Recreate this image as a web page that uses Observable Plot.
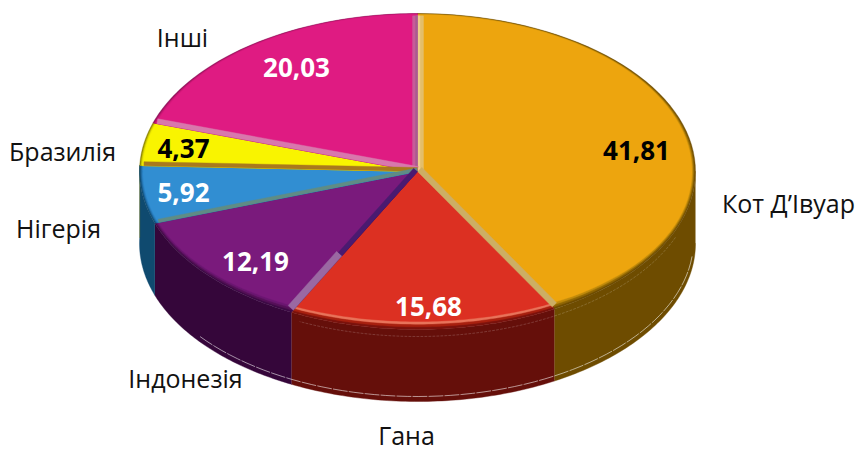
<!DOCTYPE html>
<html><head><meta charset="utf-8">
<script src="https://cdn.jsdelivr.net/npm/d3@7"></script>
<script src="https://cdn.jsdelivr.net/npm/@observablehq/plot@0.6"></script>
<style>html,body{margin:0;padding:0;background:#fff}svg{display:block}</style>
</head><body><div id="chart"></div>
<script>
// data
const categories = ["Кот Д’Івуар","Гана","Індонезія","Нігерія","Бразилія","Інші"];
const shares = [41.81,15.68,12.19,5.92,4.37,20.03];
// styles
const topColors  = ["#EDA50E","#DC3022","#7A1A7C","#318ED2","#F9F400","#DF1B82"];
const sideColors = ["#6E4C00","#650F0A","#35063A","#0F4A6F","#8a8200","#7a0f48"];
const rimColors = [
  ["#6E4C00","#8F6604","#C08A0B"],
  ["#7A120C","#A8200F","#E8735A"],
  ["#3D0A45","#551058","#6A1670"],
  ["#0F4A6F","#1C659A","#2A7FC0"],
  ["#8a8200","#c8c200","#F0EA00"],
  ["#8A0F55","#B8146C","#D01878"]
];
const edgeColors = [
  ["#CDAE64","#E3BE6A"],
  ["#B02A1E","#C42C20"],
  ["#9A68A2","#8A5096"],
  ["#5F8C85","#4C7C78"],
  ["#A9791D","#C8962A"],
  ["#D878AC","#C85C98"]
];
const valueInk = ["#000","#fff","#fff","#fff","#000","#fff"];
// layout
const cx = 417, cy = 171, rx = 278, ry = 158, depth = 72;
const valueAnchors = [[636,151],[428,307],[255,262],[183,193],[183,149],[296,68]];
const nameAnchors  = [[788,204],[406,436],[185,379],[58,229],[62,152],[182,38]];

const rad = d => d * Math.PI / 180;
let acc = 0;
const slices = shares.map((v,i) => {
  const a0 = acc * 3.6; acc += v; const a1 = acc * 3.6;
  return {i, a0, a1};
});
const at = (a, ix=0, iy=0, dy=0) => ({
  x: cx + (rx-ix)*Math.sin(rad(a)),
  y: cy - (ry-iy)*Math.cos(rad(a)) + dy
});
const arc = (a0, a1, f) => d3.range(0, 61).map(k => f(a0 + (a1-a0)*k/60));

// walls (front half only)
const walls = [];
slices.forEach(s => {
  const a0 = Math.max(s.a0, 90), a1 = Math.min(s.a1, 270 + 2.2);
  if (a1 <= a0) return;
  const top = arc(a0,a1,a=>at(a));
  const bot = arc(a1,a0,a=>at(a,0,0,depth));
  [...top,...bot].forEach(p => walls.push({...p, id:"w"+s.i, c:sideColors[s.i]}));
});
// hairline glints along the walls
const glintLow = arc(96,232,a=>at(a,2,2,depth-3)).map(p=>({...p}));
const glintHigh = arc(112,205,a=>at(a,0,0,7)).map(p=>({...p}));

// faces: dark rim outward, progressively inset, base on top
const faces = [];
slices.forEach(s => {
  const stack = [...rimColors[s.i], topColors[s.i]];
  stack.forEach((c,j) => {
    const t = j / 3;
    const pts = arc(s.a0,s.a1,a => {
      const f = Math.max(0,-Math.cos(rad(a)));
      return at(a, t*3.5, t*(1 + 7*f));
    });
    [{x:cx,y:cy},...pts].forEach(p => faces.push({...p,id:`f${s.i}_${j}`,c}));
  });
});

// bevel along each slice's boundary, pushed into its own slice
function band(a, sign, w, id, c, from=0, to=0.985) {
  const e = at(a);
  const ux = e.x-cx, uy = e.y-cy, L = Math.hypot(ux,uy);
  const nx = -uy/L*sign, ny = ux/L*sign;
  const A = {x:cx+ux*from, y:cy+uy*from}, B = {x:cx+ux*to, y:cy+uy*to};
  return [A,B,{x:B.x+nx*w,y:B.y+ny*w},{x:A.x+nx*w,y:A.y+ny*w}].map(p=>({...p,id,c}));
}
const bands = [];
// slice 0 start edge (12 o'clock) and end edge
bands.push(...band(slices[0].a0, 1, 6, "g0a", edgeColors[0][1]));
bands.push(...band(slices[0].a0, 1, 2.5, "g0b", "#EFD08A"));
bands.push(...band(slices[0].a1,-1, 6, "g1a", edgeColors[0][0]));
// slice 5 end edge and start edge
bands.push(...band(slices[5].a1,-1, 5, "p0a", edgeColors[5][1]));
bands.push(...band(slices[5].a1,-1, 2, "p0b", "#A85C90"));
bands.push(...band(slices[5].a0, 1, 5, "p1a", edgeColors[5][0]));
// yellow lower edge, blue lower edge
bands.push(...band(slices[4].a0, 1, 4, "y0", edgeColors[4][0]));
bands.push(...band(slices[3].a0, 1, 3.5, "b0", edgeColors[3][0]));
// purple/red boundary: dark near the hub, pale near the rim
bands.push(...band(slices[2].a0, 1, 5, "v0", "#4A1A70", 0, 0.62));
bands.push(...band(slices[2].a0, 1, 7, "v1", edgeColors[2][0], 0.6, 0.985));

const rows = (anchors, label, ink) => anchors.map((p,i)=>({x:p[0],y:p[1],t:label(i),ink:ink(i)}));
const nameRows = rows(nameAnchors, i=>categories[i], ()=>"#111");
const valueRows = rows(valueAnchors, i=>shares[i].toFixed(2).replace(".",","), i=>valueInk[i]);
const font = "'Open Sans', sans-serif";

const poly = d => Plot.line(d,{x:"x",y:"y",z:"id",fill:"c",stroke:"c",strokeWidth:0.4,curve:"linear"});

document.getElementById("chart").append(Plot.plot({
  width:857, height:450, margin:0,
  x:{domain:[0,857],range:[0,857],axis:null},
  y:{domain:[0,450],range:[0,450],axis:null},
  color:{type:"identity"},
  style:{background:"#fff"},
  marks:[
    poly(walls),
    Plot.line(glintLow,{x:"x",y:"y",stroke:"#fff",strokeWidth:0.8,strokeOpacity:0.7,strokeDasharray:"14 2"}),
    Plot.line(glintHigh,{x:"x",y:"y",stroke:"#fff",strokeWidth:0.5,strokeOpacity:0.35,strokeDasharray:"2 2"}),
    poly(faces),
    poly(bands),
    Plot.text(nameRows,{x:"x",y:"y",text:"t",fill:"ink",fontFamily:font,fontSize:25,textAnchor:"middle"}),
    Plot.text(valueRows,{x:"x",y:"y",text:"t",fill:"ink",fontFamily:font,fontSize:26,fontWeight:700,textAnchor:"middle"})
  ]
}));
</script></body></html>
